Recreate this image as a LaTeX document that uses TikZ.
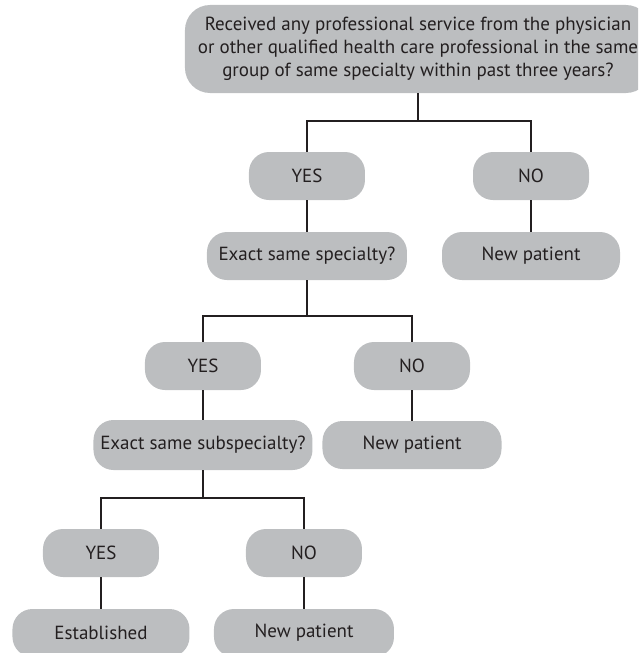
\documentclass[tikz,border=0pt]{standalone}
\usepackage{fontspec}
\setmainfont{PT Sans}
\usepackage{tikz}
\usetikzlibrary{positioning}
\definecolor{boxgrey}{HTML}{BCBEC0}
\definecolor{inkdark}{HTML}{231F20}

\begin{document}
\begin{tikzpicture}[on grid,
  pill/.style={fill=boxgrey, rounded corners=20pt, minimum height=48pt, inner sep=0pt,
    text=inkdark, font=\fontsize{19}{23}\selectfont},
  answer/.style={pill, minimum width=116pt},
  link/.style={draw=inkdark, line width=2pt}]
\useasboundingbox (-418pt,49pt) rectangle (220pt,-604pt);
\clip (-418pt,49pt) rectangle (220pt,-604pt);

% Level 1
\node [pill, minimum width=466pt, minimum height=88pt, rounded corners=25pt, align=center] at (0,0) (1Q)
  {Received any professional service from the physician\\
   or other qualified health care professional in the same\\
   group of same specialty within past three years?};

% Levels 2 and 3
\node [answer, below left=127pt and 111pt of 1Q] (2YES) {YES};
\node [answer, below right=127pt and 113pt of 1Q] (2NO) {NO};
\node [pill, minimum width=200pt, below=80pt of 2YES] (3Q) {Exact same specialty?};
\node [pill, minimum width=178pt, below=80pt of 2NO] (3NEW) {New patient};

% Levels 4 and 5
\node [answer, below left=110pt and 104pt of 3Q] (4YES) {YES};
\node [answer, below right=110pt and 105pt of 3Q] (4NO) {NO};
\node [pill, minimum width=219pt, minimum height=50pt, below=79pt of 4YES] (5Q) {Exact same subspecialty?};
\node [pill, minimum width=179pt, below=79pt of 4NO] (5NEW) {New patient};

% Levels 6 and 7
\node [answer, below left=108pt and 102pt of 5Q] (6YES) {YES};
\node [answer, below right=108pt and 101pt of 5Q] (6NO) {NO};
\node [pill, minimum width=177pt, below=80pt of 6YES] (7EST) {Established};
\node [pill, minimum width=180pt, below=80pt of 6NO] (7NEW) {New patient};

% Connections
\coordinate [below=72pt of 1Q] (1J);
\coordinate [below=60pt of 3Q] (3J);
\coordinate [below=53pt of 5Q] (5J);
\draw [link] (1Q) -- (1J) -| (2YES);
\draw [link] (1J) -| (2NO);
\draw [link] (2YES) -- (3Q);
\draw [link] (2NO) -- (3NEW);
\draw [link] (3Q) -- (3J) -| (4YES);
\draw [link] (3J) -| (4NO);
\draw [link] (4YES) -- (5Q);
\draw [link] (4NO) -- (5NEW);
\draw [link] (5Q) -- (5J) -| (6YES);
\draw [link] (5J) -| (6NO);
\draw [link] (6YES) -- (7EST);
\draw [link] (6NO) -- (7NEW);

\end{tikzpicture}
\end{document}
